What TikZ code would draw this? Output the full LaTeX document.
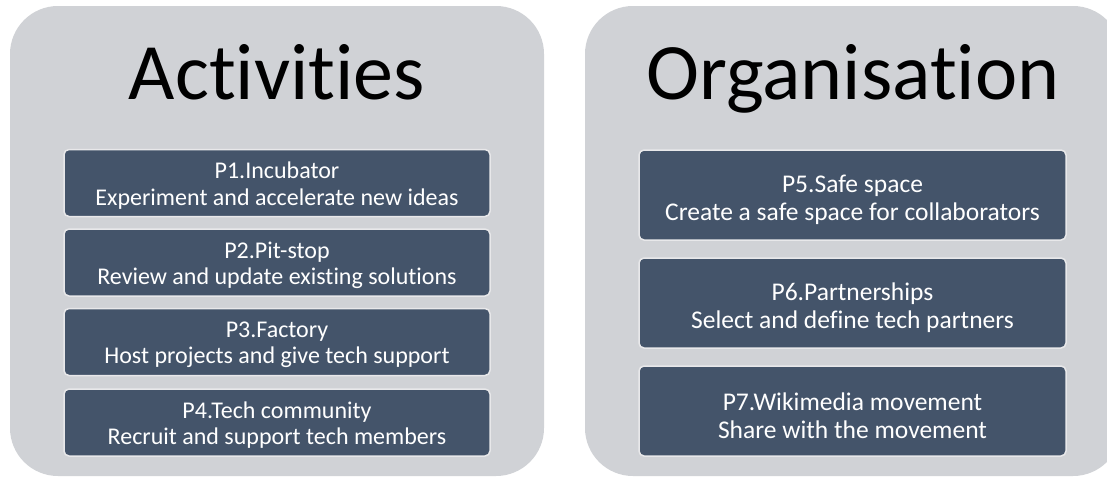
\documentclass[tikz,border=0pt]{standalone}
\usepackage{fontspec}
\setmainfont{Carlito}[Ligatures=NoCommon]
\definecolor{panelgray}{RGB}{208,210,214}
\definecolor{boxblue}{RGB}{68,84,106}
\definecolor{boxedge}{RGB}{232,232,234}
\begin{document}
\begin{tikzpicture}[x=1pt,y=-1pt,
  panel/.style={fill=panelgray, draw=none, rounded corners=48pt, inner sep=0pt},
  title/.style={anchor=base, font=\fontsize{80}{96}\selectfont, text=black, inner sep=0pt},
  pbox/.style={fill=boxblue, draw=boxedge, line width=1.5pt, rounded corners=5pt, inner sep=0pt},
  lbox/.style={pbox, minimum width=426pt, minimum height=67pt},
  rbox/.style={pbox, minimum width=427pt, minimum height=90pt},
  ltext/.style={text=white, align=center, inner sep=0pt, font=\fontsize{24}{26.4}\selectfont},
  rtext/.style={text=white, align=center, inner sep=0pt, font=\fontsize{25.5}{28}\selectfont}]
\useasboundingbox (0,0) rectangle (1107,477);
\clip (0,0) rectangle (1107,477);
\fill[white] (0,0) rectangle (1107,477);
% panels
\node[panel, minimum width=534pt, minimum height=470pt] (act) at (277,241) {};
\node[panel, minimum width=536pt, minimum height=470pt] (org) at (853,241) {};
% titles
\node[title] (acttitle) at (277,99) {Activities};
\node[title] (orgtitle) at (853,99) {Organisation};
% left boxes
\node[lbox] (p1) at (277,183) {};
\node[lbox] (p2) at (277,262.5) {};
\node[lbox] (p3) at (277,342) {};
\node[lbox] (p4) at (277,422.5) {};
\node[ltext] (p1t) at ([yshift=-2.5pt]p1.center) {P1.Incubator\\Experiment and accelerate new ideas};
\node[ltext] (p2t) at ([yshift=-2.5pt]p2.center) {P2.Pit-stop\\Review and update existing solutions};
\node[ltext] (p3t) at ([yshift=-2.5pt]p3.center) {P3.Factory\\Host projects and give tech support};
\node[ltext] (p4t) at ([yshift=-2.5pt]p4.center) {P4.Tech community\\Recruit and support tech members};
% right boxes
\node[rbox] (p5) at (852.5,195) {};
\node[rbox] (p6) at (852.5,303) {};
\node[rbox] (p7) at (852.5,411) {};
\node[rtext] (p5t) at ([yshift=-5pt]p5.center) {P5.Safe space\\Create a safe space for collaborators};
\node[rtext] (p6t) at ([yshift=-5pt]p6.center) {P6.Partnerships\\Select and define tech partners};
\node[rtext] (p7t) at ([yshift=-5pt]p7.center) {P7.Wikimedia movement\\Share with the movement};
\end{tikzpicture}
\end{document}
